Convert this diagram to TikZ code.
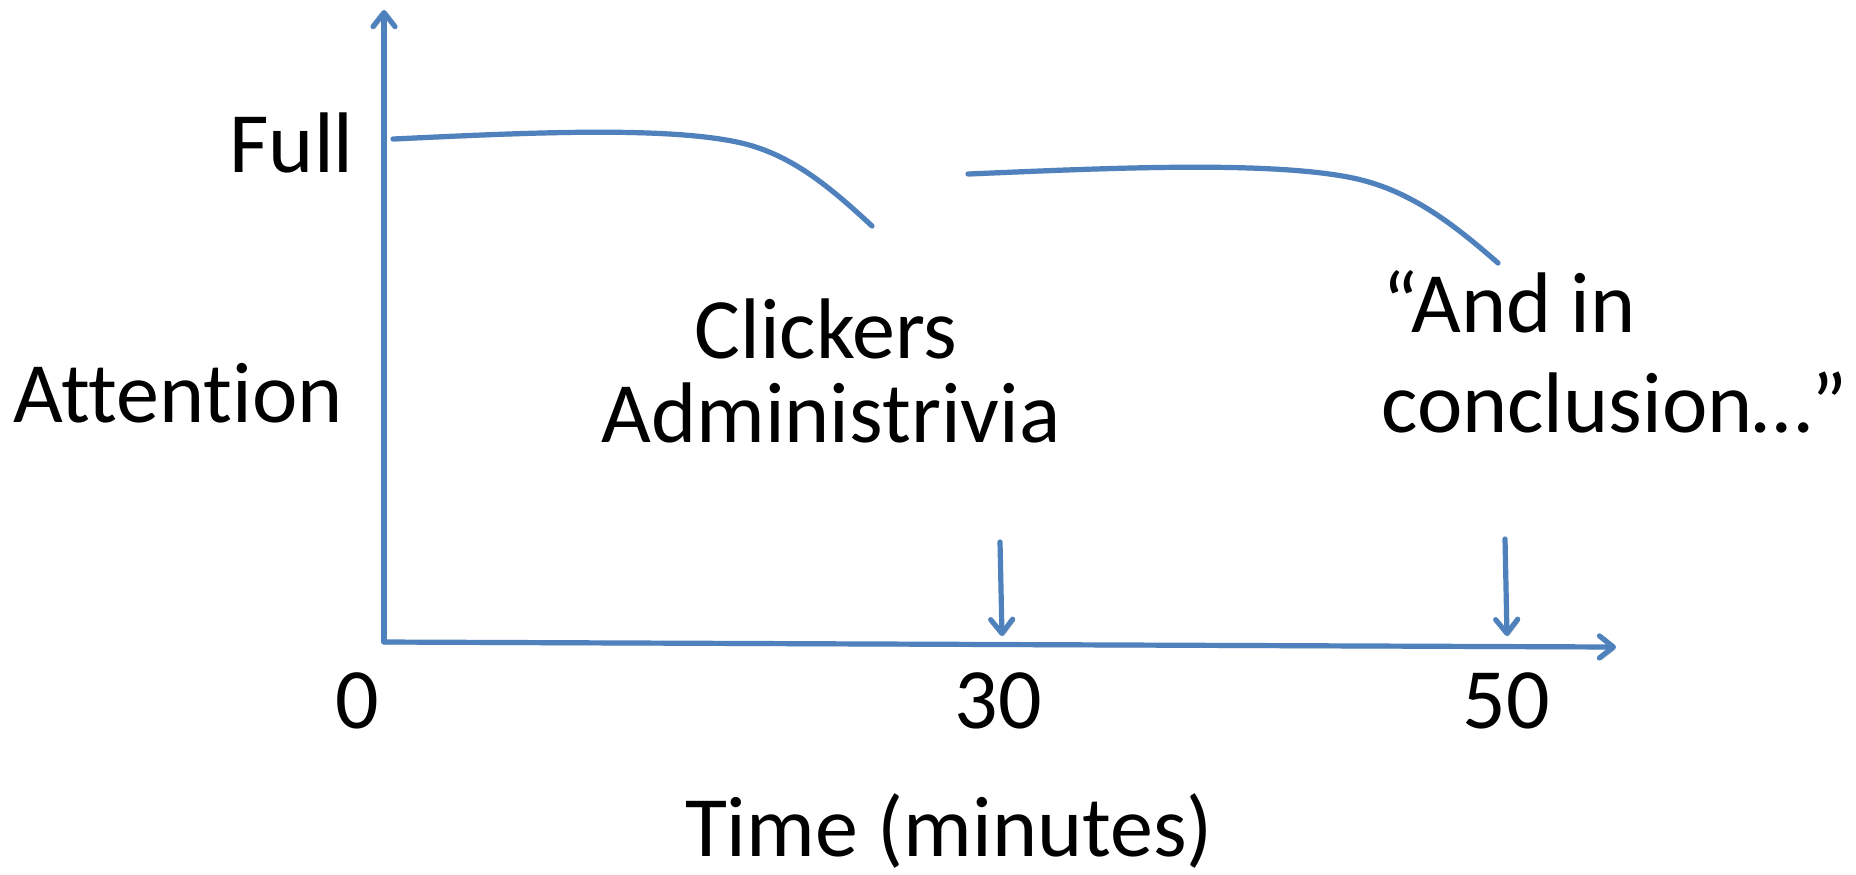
\documentclass[tikz,border=0pt]{standalone}
\usepackage{fontspec}
\setmainfont{Carlito}[Ligatures=NoCommon]
\usetikzlibrary{arrows.meta}
\definecolor{axisblue}{RGB}{79,129,189}
\begin{document}
\begin{tikzpicture}[x=0.5pt,y=-0.5pt,
  stroke/.style={line width=2.6pt, draw=axisblue, line cap=round, line join=round,
    preaction={draw=black, opacity=0.18, transform canvas={shift={(0.9pt,-1.1pt)}}}},
  arr/.style={stroke, -{Straight Barb[length=7pt,width=11pt,round]}},
  lbl/.style={inner sep=0pt, font=\fontsize{43}{50}\selectfont}]
\useasboundingbox (0,0) rectangle (1856,874);

% axes
\coordinate (o) at (384,642);
\coordinate (ytop) at (384,10);
\coordinate (xend) at (1616,647);
\draw[arr] (o) -- (ytop);
\draw[arr] (o) -- (xend);

% markers pointing at 30 and 50 minutes
\coordinate (m1a) at (1000,542);
\coordinate (m1b) at (1002,636);
\coordinate (m2a) at (1505,539);
\coordinate (m2b) at (1507,636);
\draw[arr] (m1a) -- (m1b);
\draw[arr] (m2a) -- (m2b);

% attention curves
\draw[stroke] (393,139) .. controls (520,133) and (660,126) .. (737,142)
              .. controls (790,153) and (830,187) .. (872,226);
\draw[stroke] (968,174) .. controls (1108,168) and (1263,161) .. (1348,177)
              .. controls (1407,188) and (1451,222) .. (1498,263);

% labels
\node[lbl, anchor=base east] (full) at (354,172) {Full};
\node[lbl, anchor=base west] (attn) at (13,422) {Attention};
\node[lbl, anchor=base] (clk) at (826,358) {Clickers};
\node[lbl, anchor=base] (adm) at (831,442) {Administrivia};
\node[lbl, anchor=base west] (andin) at (1382,332) {“And in};
\node[lbl, anchor=base west] (concl) at (1381,432) {conclusion…”};
\node[lbl, anchor=base] (t0) at (357,728) {0};
\node[lbl, anchor=base] (t30) at (998,728) {30};
\node[lbl, anchor=base] (t50) at (1506,728) {50};
\node[lbl, anchor=base] (time) at (949,856) {Time (minutes)};
\end{tikzpicture}
\end{document}
